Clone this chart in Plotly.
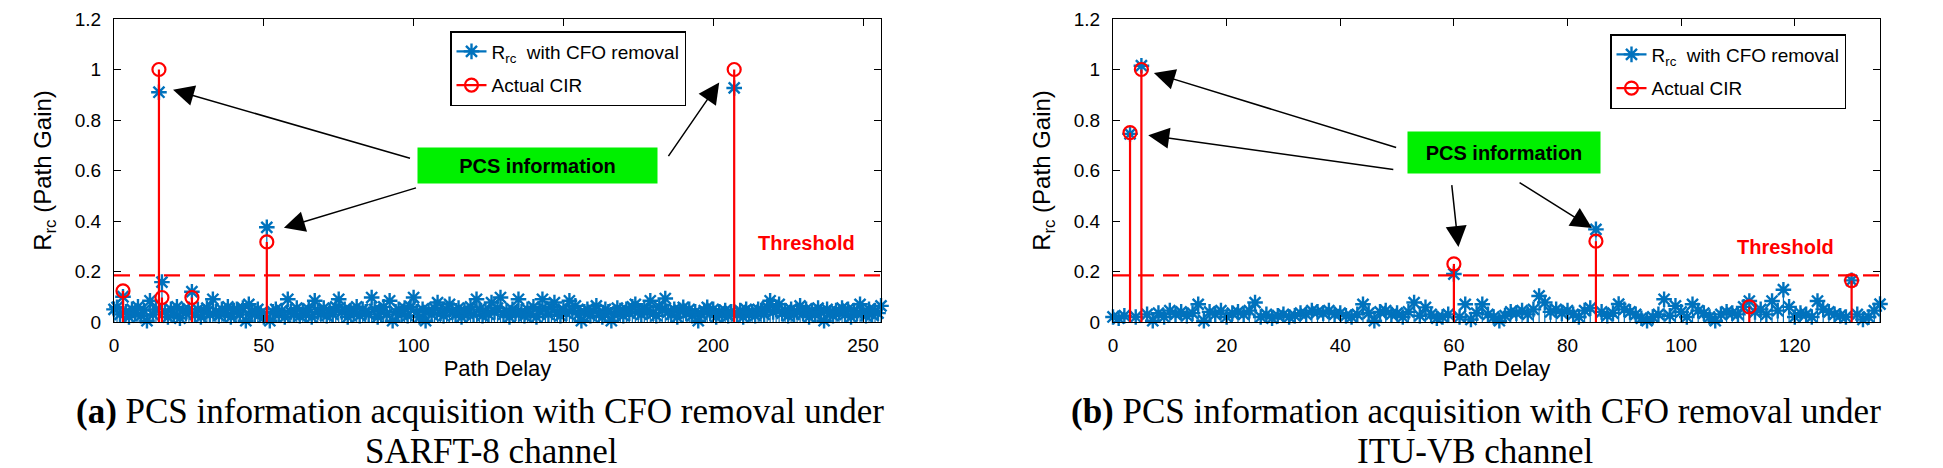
import plotly.graph_objects as go

# ---------------- data ----------------
# (a) SARFT-8 channel : R_rc with CFO removal, path delay 0..256
rrc_a = [
    0.05, 0.058, 0.03, 0.10, 0.04, 0.02, 0.05, 0.035, 0.06, 0.025, 0.045, 0.005, 0.084, 0.03, 0.05, 0.91,
    0.158, 0.04, 0.02, 0.05, 0.03, 0.06, 0.015, 0.045, 0.035, 0.05, 0.12, 0.03, 0.05, 0.02, 0.04, 0.055,
    0.03, 0.09, 0.04, 0.025, 0.05, 0.035, 0.06, 0.02, 0.045, 0.05, 0.03, 0.055, 0.005, 0.07, 0.04, 0.03,
    0.05, 0.035, 0.02, 0.375, 0.005, 0.04, 0.05, 0.03, 0.045, 0.02, 0.09, 0.04, 0.03, 0.055, 0.025, 0.045,
    0.03, 0.05, 0.02, 0.084, 0.04, 0.035, 0.055, 0.025, 0.045, 0.03, 0.06, 0.09, 0.04, 0.05, 0.02, 0.045,
    0.035, 0.06, 0.025, 0.05, 0.04, 0.03, 0.097, 0.05, 0.02, 0.045, 0.06, 0.03, 0.084, 0.005, 0.04, 0.05,
    0.03, 0.055, 0.025, 0.06, 0.097, 0.04, 0.02, 0.05, 0.005, 0.045, 0.03, 0.055, 0.077, 0.035, 0.025, 0.05,
    0.07, 0.04, 0.03, 0.055, 0.02, 0.045, 0.035, 0.06, 0.03, 0.09, 0.05, 0.025, 0.045, 0.03, 0.077, 0.04,
    0.055, 0.097, 0.03, 0.045, 0.02, 0.05, 0.035, 0.09, 0.04, 0.025, 0.05, 0.03, 0.06, 0.02, 0.045, 0.09,
    0.05, 0.03, 0.06, 0.077, 0.04, 0.025, 0.05, 0.035, 0.084, 0.045, 0.064, 0.03, 0.005, 0.04, 0.05, 0.025,
    0.045, 0.064, 0.035, 0.02, 0.05, 0.04, 0.005, 0.03, 0.055, 0.045, 0.025, 0.05, 0.035, 0.06, 0.07, 0.04,
    0.03, 0.05, 0.045, 0.084, 0.035, 0.025, 0.06, 0.05, 0.093, 0.04, 0.03, 0.05, 0.02, 0.045, 0.058, 0.035,
    0.05, 0.025, 0.04, 0.005, 0.03, 0.045, 0.058, 0.035, 0.05, 0.02, 0.04, 0.03, 0.045, 0.025, 0.04, 0.927,
    0.03, 0.045, 0.02, 0.05, 0.035, 0.04, 0.025, 0.05, 0.045, 0.03, 0.06, 0.084, 0.04, 0.05, 0.07, 0.035,
    0.045, 0.025, 0.05, 0.03, 0.04, 0.064, 0.035, 0.05, 0.02, 0.045, 0.03, 0.055, 0.04, 0.005, 0.05, 0.035,
    0.025, 0.045, 0.04, 0.055, 0.03, 0.05, 0.02, 0.045, 0.035, 0.07, 0.04, 0.025, 0.05, 0.03, 0.045, 0.035,
    0.064,
]
delay_a = list(range(len(rrc_a)))
cir_a_delay = [3, 15, 16, 26, 51, 207]
cir_a_gain = [0.123, 1.0, 0.097, 0.097, 0.317, 1.0]

# (b) ITU-VB channel : R_rc with CFO removal, path delay 0..135
rrc_b = [
    0.02, 0.015, 0.025, 0.745, 0.02, 1.015, 0.03, 0.005, 0.035, 0.02, 0.045, 0.03, 0.04, 0.025, 0.035, 0.07,
    0.005, 0.04, 0.03, 0.045, 0.02, 0.035, 0.04, 0.03, 0.045, 0.077, 0.02, 0.03, 0.015, 0.025, 0.03, 0.02,
    0.025, 0.035, 0.03, 0.045, 0.04, 0.035, 0.045, 0.03, 0.035, 0.025, 0.02, 0.03, 0.07, 0.035, 0.005, 0.04,
    0.045, 0.03, 0.035, 0.02, 0.04, 0.077, 0.025, 0.058, 0.03, 0.015, 0.02, 0.03, 0.19, 0.02, 0.07, 0.01,
    0.035, 0.07, 0.03, 0.02, 0.005, 0.025, 0.04, 0.035, 0.045, 0.03, 0.05, 0.103, 0.077, 0.04, 0.05, 0.035,
    0.045, 0.03, 0.02, 0.045, 0.055, 0.367, 0.04, 0.025, 0.035, 0.071, 0.05, 0.04, 0.03, 0.015, 0.005, 0.02,
    0.03, 0.09, 0.025, 0.064, 0.04, 0.02, 0.07, 0.045, 0.035, 0.02, 0.005, 0.03, 0.04, 0.035, 0.03, 0.06,
    0.083, 0.04, 0.05, 0.03, 0.083, 0.045, 0.128, 0.06, 0.02, 0.035, 0.03, 0.02, 0.083, 0.05, 0.04, 0.03,
    0.025, 0.02, 0.165, 0.03, 0.01, 0.02, 0.045, 0.071,
]
delay_b = list(range(len(rrc_b)))
cir_b_delay = [3, 5, 60, 85, 112, 130]
cir_b_gain = [0.75, 1.0, 0.23, 0.32, 0.06, 0.164]

threshold = 0.185
xmax_a = 256
xmax_b = 135
xticks_a = [0, 50, 100, 150, 200, 250]
xticks_b = [0, 20, 40, 60, 80, 100, 120]
yticks = [0, 0.2, 0.4, 0.6, 0.8, 1.0, 1.2]
ytick_text = ["0", "0.2", "0.4", "0.6", "0.8", "1", "1.2"]

# ---------------- styling ----------------
W, H = 1943, 468
BLUE = "#0072BD"
RED = "#FF0000"
SANS = "Liberation Sans, Arial, sans-serif"
SERIF = "Liberation Serif, Times New Roman, serif"
AST = dict(symbol="asterisk-open", size=13, color=BLUE, line=dict(color=BLUE, width=2.4))
CIRC = dict(symbol="circle-open", size=13, color=RED, line=dict(color=RED, width=2.2))


def px_x(p):
    return p / W


def px_y(p):
    return 1 - p / H


fig = go.Figure()


def add_panel(xa, ya, delay, rrc, cir_d, cir_g, xmax, legend_name):
    # R_rc stems (blue)
    fig.add_trace(go.Scatter(
        x=delay, y=rrc, xaxis=xa, yaxis=ya, mode="markers", marker=AST,
        error_y=dict(type="data", symmetric=False, array=[0] * len(rrc), arrayminus=rrc,
                     width=0, thickness=1.2, color=BLUE),
        cliponaxis=False, showlegend=False, hoverinfo="skip"))
    # threshold line
    fig.add_trace(go.Scatter(
        x=[0, xmax], y=[threshold, threshold], xaxis=xa, yaxis=ya, mode="lines",
        line=dict(color=RED, width=2.2, dash="16px,9px"), showlegend=False, hoverinfo="skip"))
    # actual CIR stems (red)
    fig.add_trace(go.Scatter(
        x=cir_d, y=cir_g, xaxis=xa, yaxis=ya, mode="markers", marker=CIRC,
        error_y=dict(type="data", symmetric=False, array=[0] * len(cir_g), arrayminus=cir_g,
                     width=0, thickness=2.2, color=RED),
        cliponaxis=False, showlegend=False, hoverinfo="skip"))
    # legend entries
    fig.add_trace(go.Scatter(
        x=[None], y=[None], xaxis=xa, yaxis=ya, mode="lines+markers",
        name="R<sub>rc</sub>  with CFO removal",
        line=dict(color=BLUE, width=2.2), marker=AST,
        legend=legend_name, legendgroup="g1"))
    fig.add_trace(go.Scatter(
        x=[None], y=[None], xaxis=xa, yaxis=ya, mode="lines+markers",
        name="Actual CIR",
        line=dict(color=RED, width=2.2), marker=CIRC,
        legend=legend_name, legendgroup="g2"))


add_panel("x", "y", delay_a, rrc_a, cir_a_delay, cir_a_gain, xmax_a, "legend")
add_panel("x2", "y2", delay_b, rrc_b, cir_b_delay, cir_b_gain, xmax_b, "legend2")

axis_common = dict(showline=True, linecolor="black", linewidth=1.2, mirror="ticks",
                   ticks="inside", ticklen=7, tickwidth=1.2, tickcolor="black",
                   showgrid=False, zeroline=False, ticklabeloverflow="allow",
                   automargin=False,
                   tickfont=dict(family=SANS, size=19, color="black"))

ydom = [px_y(314), px_y(11)]
xtitle = dict(text="Path Delay", font=dict(family=SANS, size=22, color="black"), standoff=4)
ytitle = dict(text="R<sub>rc</sub> (Path Gain)", font=dict(family=SANS, size=24, color="black"), standoff=16)

fig.update_layout(
    width=W, height=H, margin=dict(l=0, r=0, t=0, b=0, autoexpand=False),
    paper_bgcolor="white", plot_bgcolor="white",
    xaxis=dict(domain=[px_x(106), px_x(873)], range=[0, xmax_a], tickvals=xticks_a,
               anchor="y", ticklabelstandoff=6, title=xtitle, **axis_common),
    yaxis=dict(domain=ydom, range=[0, 1.2], tickvals=yticks, ticktext=ytick_text,
               anchor="x", ticklabelstandoff=8, title=ytitle, **axis_common),
    xaxis2=dict(domain=[px_x(1105), px_x(1872)], range=[0, xmax_b], tickvals=xticks_b,
                anchor="y2", ticklabelstandoff=6, title=xtitle, **axis_common),
    yaxis2=dict(domain=ydom, range=[0, 1.2], tickvals=yticks, ticktext=ytick_text,
                anchor="x2", ticklabelstandoff=8, title=ytitle, **axis_common),
    legend=dict(x=px_x(442), y=px_y(23), xanchor="left", yanchor="top",
                bordercolor="black", borderwidth=1.5, bgcolor="white",
                font=dict(family=SANS, size=19, color="black"), tracegroupgap=6),
    legend2=dict(x=px_x(1602), y=px_y(26), xanchor="left", yanchor="top",
                 bordercolor="black", borderwidth=1.5, bgcolor="white",
                 font=dict(family=SANS, size=19, color="black"), tracegroupgap=6),
)

annotations = []


def arrow(xref, yref, head, tail):
    annotations.append(dict(
        xref=xref, yref=yref, axref=xref, ayref=yref,
        x=head[0], y=head[1], ax=tail[0], ay=tail[1],
        text="", showarrow=True, arrowhead=2, arrowsize=2.8, arrowwidth=1.5,
        arrowcolor="black", standoff=0, startstandoff=0))


# panel (a) arrows
arrow("x", "y", (19.7, 0.92), (99.3, 0.647))
arrow("x", "y", (56.7, 0.373), (101.3, 0.533))
arrow("x", "y", (202, 0.949), (184.7, 0.651))
# panel (b) arrows
arrow("x2", "y2", (7.2, 0.986), (50.1, 0.689))
arrow("x2", "y2", (6.2, 0.74), (49.6, 0.603))
arrow("x2", "y2", (60.8, 0.297), (59.6, 0.548))
arrow("x2", "y2", (84.3, 0.372), (71.3, 0.556))

GREEN = "#00F000"
annotations.append(dict(xref="x", yref="y", x=141.5, y=0.6216, text="<b>PCS information</b>",
                        showarrow=False, bgcolor=GREEN, width=239, height=35, borderpad=0,
                        font=dict(family=SANS, size=20, color="black")))
annotations.append(dict(xref="x2", yref="y2", x=68.8, y=0.671, text="<b>PCS information</b>",
                        showarrow=False, bgcolor=GREEN, width=192, height=41, borderpad=0,
                        font=dict(family=SANS, size=20, color="black")))
annotations.append(dict(xref="x", yref="y", x=231, y=0.314, text="<b>Threshold</b>",
                        showarrow=False, font=dict(family=SANS, size=20, color=RED)))
annotations.append(dict(xref="x2", yref="y2", x=118.3, y=0.298, text="<b>Threshold</b>",
                        showarrow=False, font=dict(family=SANS, size=20, color=RED)))

# captions
cap_font = dict(family=SERIF, size=35, color="black")
annotations.append(dict(xref="paper", yref="paper", x=px_x(472), y=px_y(403), xanchor="center", yanchor="middle",
                        text="<b>(a)</b> PCS information acquisition with CFO removal under",
                        showarrow=False, font=cap_font, borderpad=0))
annotations.append(dict(xref="paper", yref="paper", x=px_x(483), y=px_y(443), xanchor="center", yanchor="middle",
                        text="SARFT-8 channel", showarrow=False, font=cap_font, borderpad=0))
annotations.append(dict(xref="paper", yref="paper", x=px_x(1468), y=px_y(403), xanchor="center", yanchor="middle",
                        text="<b>(b)</b> PCS information acquisition with CFO removal under",
                        showarrow=False, font=cap_font, borderpad=0))
annotations.append(dict(xref="paper", yref="paper", x=px_x(1467), y=px_y(443), xanchor="center", yanchor="middle",
                        text="ITU-VB channel", showarrow=False, font=cap_font, borderpad=0))

fig.update_layout(annotations=annotations)

fig.write_html("out.html")
